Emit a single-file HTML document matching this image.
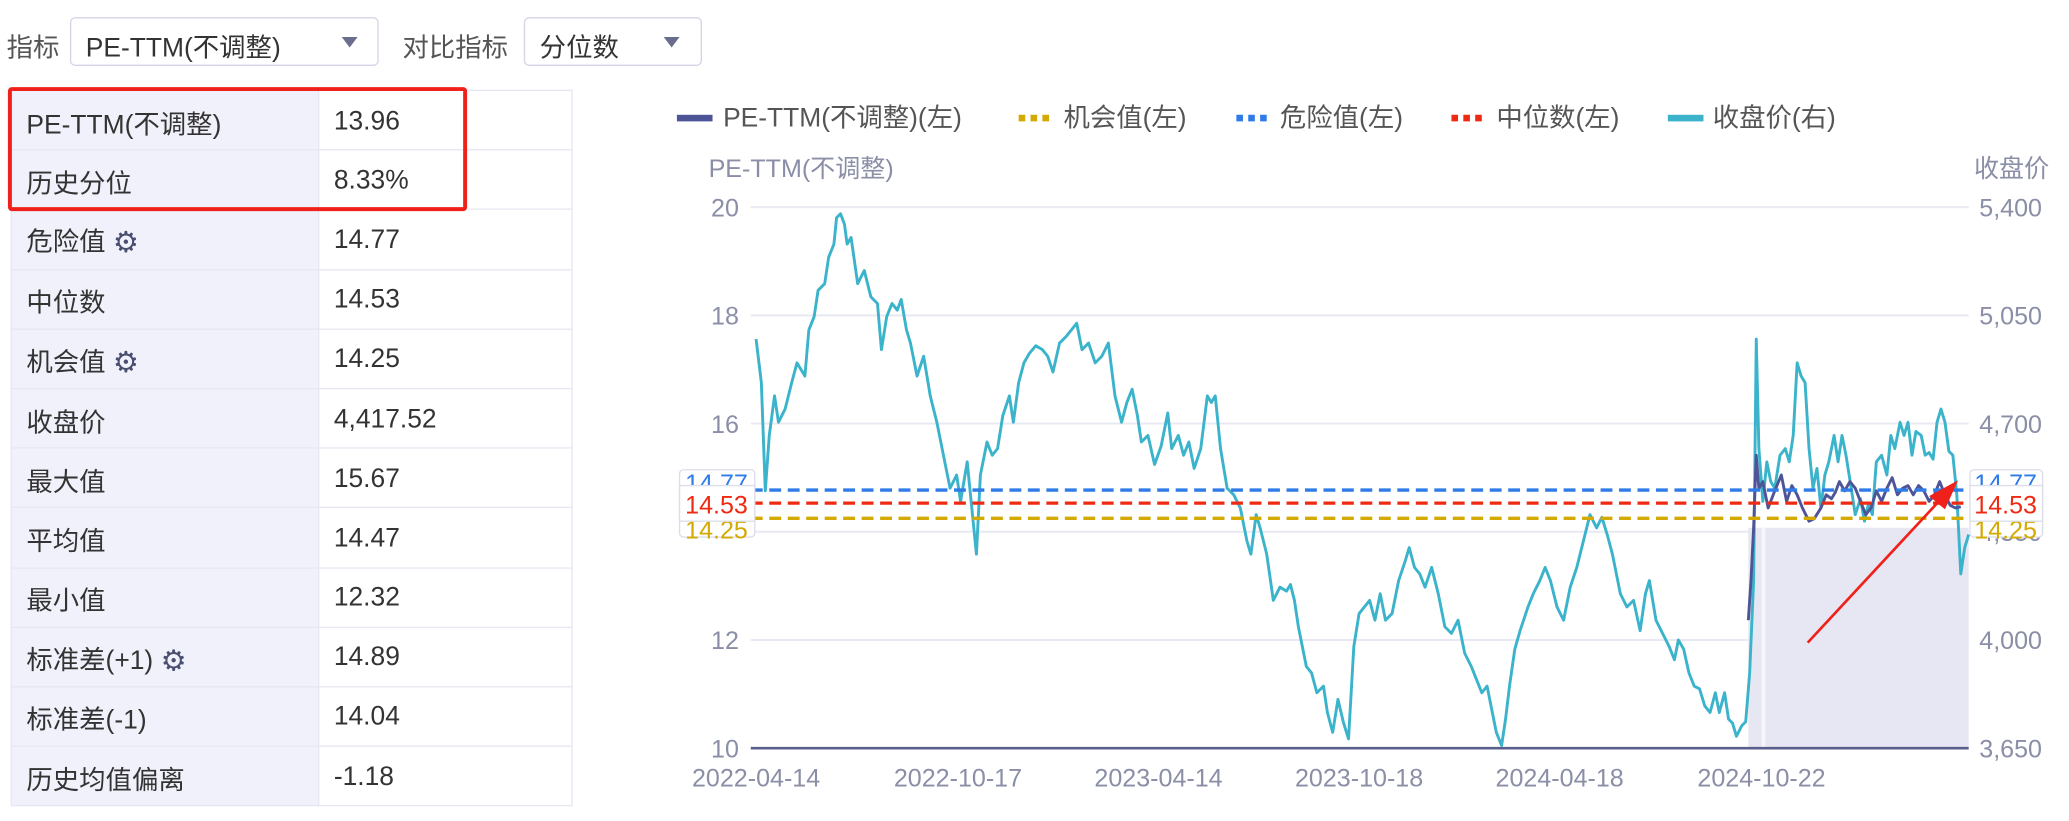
<!DOCTYPE html>
<html><head><meta charset="utf-8"><style>
html,body{margin:0;padding:0;background:#fff;overflow:hidden;}
#w{width:1568px;height:622px;position:relative;transform:scale(1.3195);transform-origin:0 0;font-family:"Liberation Sans","Noto Sans CJK SC",sans-serif;}
.a{position:absolute;white-space:nowrap;}
.sel{position:absolute;border:1.5px solid #d3d5e6;border-radius:4px;box-sizing:border-box;}
.tri{position:absolute;width:0;height:0;border-left:6px solid transparent;border-right:6px solid transparent;border-top:8px solid #6a6e8c;}
table{position:absolute;left:8px;top:68px;border-collapse:collapse;font-size:20px;color:#333;}
td{height:45.2px;border:1.5px solid #e6e7f2;padding:2px 0 0 11px;box-sizing:border-box;}
td.l{width:233px;background:#f0f1fa;}
td.r{width:192px;background:#fff;}
.g{font-size:22px;color:#4a4e70;vertical-align:-1px;}
</style></head><body><div id="w">
<div class="a" style="left:5px;top:20px;font-size:20px;color:#555;">指标</div>
<div class="sel" style="left:53px;top:13px;width:234px;height:37px;"></div>
<div class="a" style="left:65px;top:20px;font-size:20px;color:#333;">PE-TTM(不调整)</div>
<div class="tri" style="left:259px;top:28px;"></div>
<div class="a" style="left:305px;top:20px;font-size:20px;color:#555;">对比指标</div>
<div class="sel" style="left:397px;top:13px;width:135px;height:37px;"></div>
<div class="a" style="left:409px;top:20px;font-size:20px;color:#333;">分位数</div>
<div class="tri" style="left:503px;top:28px;"></div>
<table>
<tr><td class="l">PE-TTM(不调整)</td><td class="r">13.96</td></tr>
<tr><td class="l">历史分位</td><td class="r">8.33%</td></tr>
<tr><td class="l">危险值 <span class="g">⚙</span></td><td class="r">14.77</td></tr>
<tr><td class="l">中位数</td><td class="r">14.53</td></tr>
<tr><td class="l">机会值 <span class="g">⚙</span></td><td class="r">14.25</td></tr>
<tr><td class="l">收盘价</td><td class="r">4,417.52</td></tr>
<tr><td class="l">最大值</td><td class="r">15.67</td></tr>
<tr><td class="l">平均值</td><td class="r">14.47</td></tr>
<tr><td class="l">最小值</td><td class="r">12.32</td></tr>
<tr><td class="l">标准差(+1) <span class="g">⚙</span></td><td class="r">14.89</td></tr>
<tr><td class="l">标准差(-1)</td><td class="r">14.04</td></tr>
<tr><td class="l">历史均值偏离</td><td class="r">-1.18</td></tr>
</table>
<div class="a" style="left:6px;top:66px;width:342px;height:88px;border:3px solid #f0201a;border-radius:3px;"></div>
<svg class="a" style="left:0;top:0" width="1568" height="622" font-family="Liberation Sans, Noto Sans CJK SC, sans-serif">
<g font-size="20" fill="#555">
<rect x="513" y="87" width="27" height="5" fill="#4e5597"/><text x="548" y="96">PE-TTM(不调整)(左)</text>
<line x1="772" y1="89.5" x2="798" y2="89.5" stroke="#d4a900" stroke-width="5" stroke-dasharray="5,4"/><text x="806" y="96">机会值(左)</text>
<line x1="937" y1="89.5" x2="963" y2="89.5" stroke="#2f7be8" stroke-width="5" stroke-dasharray="5,4"/><text x="970" y="96">危险值(左)</text>
<line x1="1100" y1="89.5" x2="1126" y2="89.5" stroke="#ee2a12" stroke-width="5" stroke-dasharray="5,4"/><text x="1134" y="96">中位数(左)</text>
<rect x="1264" y="87" width="27" height="5" fill="#3ab3cb"/><text x="1298" y="96">收盘价(右)</text>
</g>
<g font-size="19" fill="#8a8ea6">
<text x="537" y="134">PE-TTM(不调整)</text><text x="1496" y="134">收盘价</text>
<text x="560" y="164" text-anchor="end">20</text><text x="560" y="246" text-anchor="end">18</text><text x="560" y="328" text-anchor="end">16</text><text x="560" y="492" text-anchor="end">12</text><text x="560" y="574" text-anchor="end">10</text>
<text x="1500" y="164">5,400</text><text x="1500" y="246">5,050</text><text x="1500" y="328">4,700</text><text x="1500" y="410">4,350</text><text x="1500" y="492">4,000</text><text x="1500" y="574">3,650</text>
<g text-anchor="middle"><text x="573" y="596">2022-04-14</text><text x="726" y="596">2022-10-17</text><text x="878" y="596">2023-04-14</text><text x="1030" y="596">2023-10-18</text><text x="1182" y="596">2024-04-18</text><text x="1335" y="596">2024-10-22</text></g>
</g>
<g stroke="#e8e9f2" stroke-width="1.5"><line x1="569" y1="157" x2="1492" y2="157"/><line x1="569" y1="239" x2="1492" y2="239"/><line x1="569" y1="321" x2="1492" y2="321"/><line x1="569" y1="403" x2="1492" y2="403"/><line x1="569" y1="485" x2="1492" y2="485"/></g>
<rect x="1325" y="400" width="167" height="167" fill="#e6e7f2"/>
<rect x="1335" y="400" width="3" height="167" fill="#f6f6fb"/>
<line x1="569" y1="567" x2="1492" y2="567" stroke="#5a5f8c" stroke-width="2"/>
<polyline fill="none" stroke="#3ab3cb" stroke-width="2.2" stroke-linejoin="round" points="573,257 577,290 580,372 583,330 587,300 590,320 595,310 600,290 604,275 610,285 613,250 617,240 620,220 625,215 628,195 632,185 634,165 637,162 640,170 642,185 645,180 650,215 655,205 660,225 665,230 668,265 672,240 676,230 680,235 683,227 687,250 690,260 695,285 700,270 705,300 710,320 715,345 718,360 720,370 725,360 728,380 733,350 737,390 740,420 743,360 748,335 752,345 756,340 760,315 765,300 768,320 772,290 776,275 780,268 785,262 790,265 794,270 798,282 803,260 808,255 812,250 816,245 820,265 825,260 830,275 835,270 840,260 845,300 850,320 854,305 858,295 862,315 865,335 870,330 875,352 880,338 885,313 888,340 893,330 897,345 901,335 905,355 910,340 915,300 918,305 921,300 925,340 930,370 935,375 940,385 945,410 948,420 952,390 955,400 960,420 965,455 970,445 975,448 978,443 981,455 984,475 990,505 994,510 998,525 1003,520 1006,540 1010,555 1014,530 1018,547 1022,560 1026,490 1030,465 1034,460 1038,455 1042,470 1046,450 1050,470 1055,465 1060,440 1065,425 1068,415 1072,430 1076,435 1080,445 1085,430 1090,450 1095,475 1100,480 1105,470 1110,495 1115,505 1119,515 1123,525 1127,520 1130,535 1134,555 1138,565 1141,545 1144,520 1148,492 1152,478 1158,460 1162,450 1167,440 1171,430 1175,440 1180,460 1185,470 1190,445 1195,430 1200,410 1205,390 1210,400 1214,392 1218,405 1222,420 1228,450 1233,460 1238,455 1243,478 1247,450 1250,440 1255,470 1260,480 1265,490 1269,500 1272,485 1276,492 1280,510 1284,520 1288,522 1292,535 1296,540 1300,525 1303,540 1307,525 1310,545 1313,548 1316,558 1320,550 1323,547 1326,510 1329,440 1331,257 1333,340 1336,380 1339,350 1342,365 1345,370 1349,345 1353,340 1356,350 1359,330 1362,275 1365,285 1368,290 1371,340 1374,370 1377,355 1380,385 1383,360 1386,350 1390,330 1393,350 1396,330 1399,345 1403,370 1406,390 1410,378 1413,395 1416,382 1419,390 1422,350 1426,345 1430,360 1433,330 1436,340 1440,320 1443,330 1446,320 1449,345 1452,327 1456,330 1459,345 1462,343 1465,348 1468,320 1471,310 1474,320 1477,342 1480,345 1483,375 1486,435 1489,415 1492,405"/>
<polyline fill="none" stroke="#4e5597" stroke-width="2.2" stroke-linejoin="round" points="1325,470 1327,440 1329,400 1331,345 1333,370 1336,365 1340,385 1345,372 1350,360 1354,380 1358,368 1362,375 1366,385 1371,395 1375,393 1380,385 1384,375 1388,378 1391,373 1394,365 1398,372 1402,365 1406,370 1410,380 1414,390 1418,385 1422,372 1426,380 1430,370 1434,362 1438,375 1442,370 1446,368 1450,375 1454,368 1458,372 1462,380 1466,375 1470,365 1474,375 1478,383 1482,385 1486,384"/>
<line x1="569" y1="371.4" x2="1492" y2="371.4" stroke="#2f7be8" stroke-width="2.5" stroke-dasharray="9,5"/>
<line x1="569" y1="381.3" x2="1492" y2="381.3" stroke="#ee2a12" stroke-width="2.5" stroke-dasharray="9,5"/>
<line x1="569" y1="392.8" x2="1492" y2="392.8" stroke="#d4a900" stroke-width="2.5" stroke-dasharray="9,5"/>
<line x1="1370" y1="487" x2="1474" y2="375" stroke="#f0201a" stroke-width="2"/>
<polygon points="1484,364 1462,376 1474,386" fill="#f0201a"/>
<g font-size="19">
<rect x="515" y="356" width="57" height="51" rx="3" fill="#fff" stroke="#dcdde9"/>
<text x="543" y="373" text-anchor="middle" fill="#2f7be8">14.77</text><text x="543" y="408" text-anchor="middle" fill="#d4a900">14.25</text>
<rect x="515" y="368" width="57" height="27" fill="#fff" stroke="#dcdde9"/>
<text x="543" y="389" text-anchor="middle" fill="#ee2a12">14.53</text>
<rect x="1493" y="356" width="55" height="51" rx="3" fill="#fff" stroke="#dcdde9"/>
<text x="1520" y="373" text-anchor="middle" fill="#2f7be8">14.77</text><text x="1520" y="408" text-anchor="middle" fill="#d4a900">14.25</text>
<rect x="1493" y="368" width="55" height="27" fill="#fff" stroke="#dcdde9"/>
<text x="1520" y="389" text-anchor="middle" fill="#ee2a12">14.53</text>
</g>
</svg>
</div></body></html>
